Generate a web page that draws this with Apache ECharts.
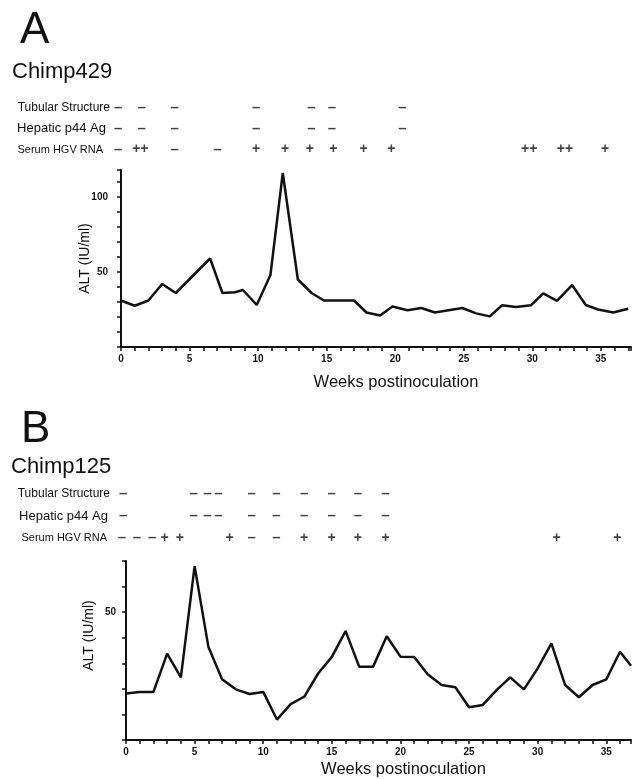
<!DOCTYPE html>
<html>
<head>
<meta charset="utf-8">
<script src="https://cdn.jsdelivr.net/npm/echarts@6/dist/echarts.min.js"></script>
<style>
  html, body { margin: 0; padding: 0; background: #fff; }
  #chart { width: 634px; height: 779px; }
</style>
</head>
<body>
<div id="chart"></div>
<script>
// row names of the marker table
const rows = ['Tubular Structure', 'Hepatic p44 Ag', 'Serum HGV RNA'];

// Chimp429: ALT by week
const weeksA = [0, 1, 2, 3, 4, 6.5, 7.4, 8.3, 8.9, 9.9, 10.9, 11.8, 12.9, 13.9, 14.8, 17, 17.9, 18.9, 19.8, 20.9,
  21.9, 22.9, 24, 24.9, 25.9, 26.9, 27.8, 28.8, 29.9, 30.8, 31.8, 32.9, 33.9, 34.8, 35.9, 37];
const altA = [31, 27.5, 31, 42, 36, 59, 36, 36.5, 38, 28, 48, 116, 45, 36, 31, 31, 23, 21, 27, 24.5,
  26, 23, 24.7, 26, 22.4, 20.4, 27.8, 26.7, 27.8, 35.7, 30.7, 41.3, 28, 25, 23, 25.5];

// Chimp429 markers [week, sign]
const tubularA = [[-0.2, '-'], [1.5, '-'], [3.9, '-'], [9.8, '-'], [13.8, '-'], [15.3, '-'], [20.4, '-']];
const hepaticA = [[-0.2, '-'], [1.5, '-'], [3.9, '-'], [9.8, '-'], [13.8, '-'], [15.3, '-'], [20.4, '-']];
const serumA = [[-0.2, '-'], [1.4, '++'], [3.9, '-'], [7.0, '-'], [9.8, '+'], [11.9, '+'], [13.7, '+'],
  [15.4, '+'], [17.6, '+'], [19.6, '+'], [29.6, '++'], [32.2, '++'], [35.1, '+']];

// Chimp125: ALT by week
const weeksB = [0, 1, 2, 3, 4, 5, 6, 7, 8, 9, 10, 11, 12, 13, 14, 15, 16, 17, 18, 19, 20, 21,
  22, 23, 24, 25, 26, 27, 28, 29, 30, 31, 32, 33, 34, 35, 36, 36.8];
const altB = [18.2, 18.8, 18.8, 33.8, 24.5, 68, 36.5, 23.8, 19.8, 18, 18.8, 8, 14, 17, 26, 32.5, 42.6, 28.6, 28.6, 40.6, 32.6, 32.5,
  25.6, 21.5, 20.6, 12.8, 13.7, 19.5, 24.5, 19.8, 28, 37.8, 21.5, 16.7, 21.5, 23.7, 34.5, 29];

// Chimp125 markers [week, sign]
const tubularB = [[-0.2, '-'], [4.9, '-'], [5.9, '-'], [6.7, '-'], [9.1, '-'], [10.9, '-'], [12.9, '-'],
  [14.9, '-'], [16.8, '-'], [18.8, '-']];
const hepaticB = [[-0.2, '-'], [4.9, '-'], [5.9, '-'], [6.7, '-'], [9.1, '-'], [10.9, '-'], [12.9, '-'],
  [14.9, '-'], [16.8, '-'], [18.8, '-']];
const serumB = [[-0.3, '-'], [0.8, '-'], [1.9, '-'], [2.8, '+'], [3.9, '+'], [7.5, '+'], [9.1, '-'],
  [10.9, '-'], [12.9, '+'], [14.9, '+'], [16.8, '+'], [18.8, '+'], [31.2, '+'], [35.6, '+']];

const FONT = "'Liberation Sans', Arial, Helvetica, sans-serif";
const INK = '#111';

function markerSeries(list, row, axis) {
  return {
    type: 'scatter',
    xAxisIndex: axis,
    yAxisIndex: axis,
    clip: false,
    symbolSize: 1,
    itemStyle: { color: 'rgba(0,0,0,0)' },
    silent: true,
    label: {
      show: true,
      position: 'inside',
      // minus shown as a wide dash, plus as a bold cross
      formatter: p => (p.data[2] === '-' ? '{d|–}' : '{p|' + p.data[2] + '}'),
      rich: {
        d: { fontSize: 15, fontWeight: 'bold', fontFamily: FONT, color: INK },
        p: { fontSize: 14, fontWeight: 'bold', fontFamily: FONT, color: INK }
      }
    },
    data: list.map(([w, s]) => [w, rows[row], s])
  };
}

function rowAxis(grid, margin, padH, padS) {
  return {
    type: 'category',
    gridIndex: grid,
    inverse: true,
    data: rows,
    axisLine: { show: false },
    axisTick: { show: false },
    axisLabel: {
      margin: margin,
      formatter: (v, i) => ['{t|', '{h|', '{s|'][i] + v + '}',
      rich: {
        t: { fontSize: 12, fontFamily: FONT, color: INK },
        h: { fontSize: 13, fontFamily: FONT, color: INK, padding: [0, padH, 0, 0] },
        s: { fontSize: 11, fontFamily: FONT, color: INK, padding: [0, padS, 0, 0] }
      }
    }
  };
}

function weekAxis(grid, max, show, namePad, nameGap) {
  return {
    type: 'value',
    gridIndex: grid,
    min: 0,
    max: max,
    interval: 1,
    show: show,
    name: show ? 'Weeks postinoculation' : '',
    nameLocation: 'middle',
    nameGap: nameGap,
    nameMoveOverlap: false,
    nameTextStyle: { fontSize: 16.5, fontFamily: FONT, color: INK, padding: [0, 0, 0, namePad] },
    splitLine: { show: false },
    axisLine: { lineStyle: { color: INK, width: 2 } },
    axisTick: { length: 4, lineStyle: { color: INK, width: 1.5 } },
    axisLabel: {
      margin: 7,
      fontSize: 10,
      fontWeight: 'bold',
      fontFamily: FONT,
      color: INK,
      formatter: v => (v % 5 === 0 ? String(v) : '')
    }
  };
}

function altAxis(grid, max, labels, margin, namePad, nameGap) {
  return {
    type: 'value',
    gridIndex: grid,
    min: 0,
    max: max,
    interval: 10,
    name: 'ALT (IU/ml)',
    nameLocation: 'middle',
    nameGap: nameGap,
    nameMoveOverlap: false,
    nameTextStyle: { fontSize: 14, fontFamily: FONT, color: INK, padding: [0, 0, 0, namePad] },
    splitLine: { show: false },
    axisLine: { show: true, lineStyle: { color: INK, width: 2 } },
    axisTick: { show: true, length: 4, lineStyle: { color: INK, width: 1.5 } },
    axisLabel: {
      margin: margin,
      fontSize: 10,
      fontWeight: 'bold',
      fontFamily: FONT,
      color: INK,
      formatter: v => (labels.indexOf(v) >= 0 ? String(v) : '')
    }
  };
}

const chart = echarts.init(document.getElementById('chart'), null, { renderer: 'canvas' });

chart.setOption({
  backgroundColor: '#fff',
  animation: false,
  title: [
    { text: 'A', left: 20, top: 9, padding: 0, textStyle: { fontSize: 44, fontWeight: 'normal', fontFamily: FONT, color: INK } },
    { text: 'Chimp429', left: 12, top: 61, padding: 0, textStyle: { fontSize: 22, fontWeight: 'normal', fontFamily: FONT, color: INK } },
    { text: 'B', left: 21, top: 408, padding: 0, textStyle: { fontSize: 44, fontWeight: 'normal', fontFamily: FONT, color: INK } },
    { text: 'Chimp125', left: 11, top: 456, padding: 0, textStyle: { fontSize: 22, fontWeight: 'normal', fontFamily: FONT, color: INK } }
  ],
  grid: [
    { left: 121, right: 0, top: 97, height: 63 },
    { left: 121, right: 0, top: 170, height: 177 },
    { left: 126, right: 0, top: 483, height: 66 },
    { left: 126, right: 0, top: 561, height: 179 }
  ],
  xAxis: [
    weekAxis(0, 37.2, false, 0, 0),
    weekAxis(1, 37.2, true, 40, 27),
    weekAxis(2, 36.8, false, 0, 0),
    weekAxis(3, 36.8, true, 50, 21)
  ],
  yAxis: [
    rowAxis(0, 11, 4, 7),
    altAxis(1, 118, [50, 100], 13, 0, 29),
    rowAxis(2, 16, 2, 3),
    altAxis(3, 70, [50], 10, 30, 30)
  ],
  series: [
    markerSeries(tubularA, 0, 0),
    markerSeries(hepaticA, 1, 0),
    markerSeries(serumA, 2, 0),
    {
      type: 'line',
      xAxisIndex: 1,
      yAxisIndex: 1,
      showSymbol: false,
      lineStyle: { color: INK, width: 2.5 },
      data: weeksA.map((w, i) => [w, altA[i]])
    },
    markerSeries(tubularB, 0, 2),
    markerSeries(hepaticB, 1, 2),
    markerSeries(serumB, 2, 2),
    {
      type: 'line',
      xAxisIndex: 3,
      yAxisIndex: 3,
      showSymbol: false,
      lineStyle: { color: INK, width: 2.5 },
      data: weeksB.map((w, i) => [w, altB[i]])
    }
  ]
});
</script>
</body>
</html>
